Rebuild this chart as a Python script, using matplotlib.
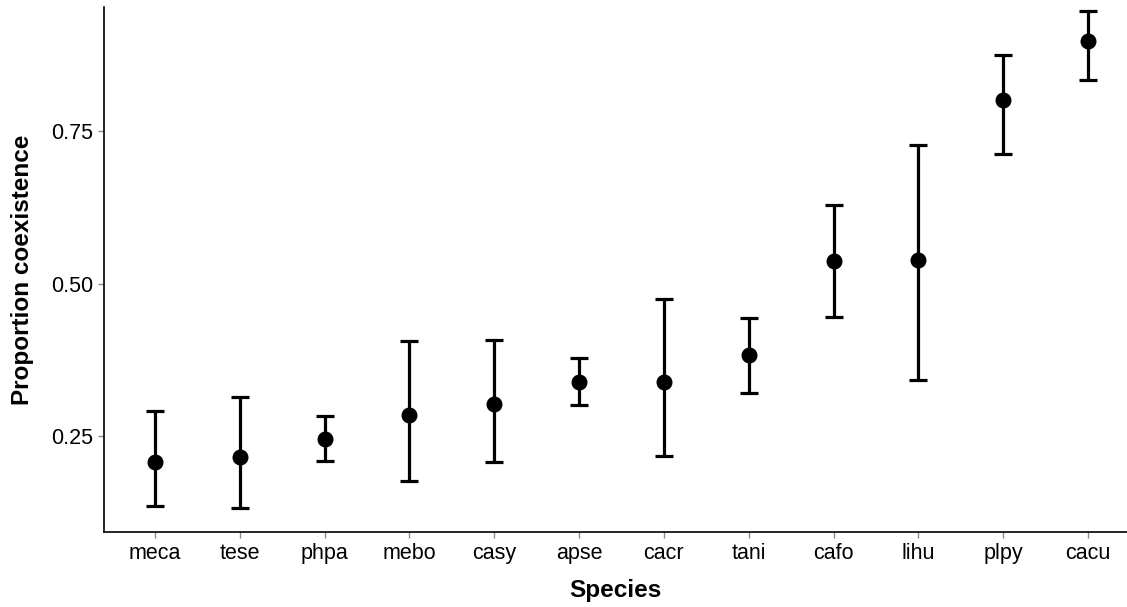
import matplotlib
matplotlib.use("Agg")
import matplotlib.pyplot as plt

species = ["meca", "tese", "phpa", "mebo", "casy", "apse",
           "cacr", "tani", "cafo", "lihu", "plpy", "cacu"]
mean = [0.208, 0.216, 0.246, 0.285, 0.303, 0.339,
        0.339, 0.384, 0.538, 0.539, 0.802, 0.898]
lower = [0.136, 0.133, 0.210, 0.177, 0.208, 0.302,
         0.218, 0.321, 0.446, 0.343, 0.713, 0.834]
upper = [0.292, 0.315, 0.284, 0.407, 0.408, 0.379,
         0.475, 0.444, 0.630, 0.728, 0.875, 0.948]

plt.rcParams["font.family"] = ["Liberation Sans", "DejaVu Sans"]

fig = plt.figure(figsize=(11.27, 6.07), dpi=100)
ax = fig.add_axes([0.0923, 0.1236, 0.9077, 0.8649])

x = list(range(len(species)))
yerr = [[m - lo for m, lo in zip(mean, lower)],
        [hi - m for m, hi in zip(mean, upper)]]
ax.errorbar(x, mean, yerr=yerr, fmt="o", color="black", ms=10.5,
            elinewidth=2.3, capsize=6.2, capthick=2.3)

ax.set_xlim(-0.6, 11.46)
ax.set_ylim(0.0934, 0.954)
ax.set_xticks(x)
ax.set_xticklabels(species)
ax.set_yticks([0.25, 0.50, 0.75])
ax.set_yticklabels(["0.25", "0.50", "0.75"])

for side in ["top", "right"]:
    ax.spines[side].set_visible(False)
for side in ["left", "bottom"]:
    ax.spines[side].set_linewidth(1.2)
    ax.spines[side].set_color("black")

ax.tick_params(axis="both", length=4, width=1, color="#8a8a8a",
               labelsize=15.5, labelcolor="black", pad=4)

ax.set_xlabel("Species", fontsize=17.5, fontweight="bold", labelpad=11)
ax.set_ylabel("Proportion coexistence", fontsize=17.5, fontweight="bold", labelpad=12)

fig.savefig("out.png", dpi=100)
